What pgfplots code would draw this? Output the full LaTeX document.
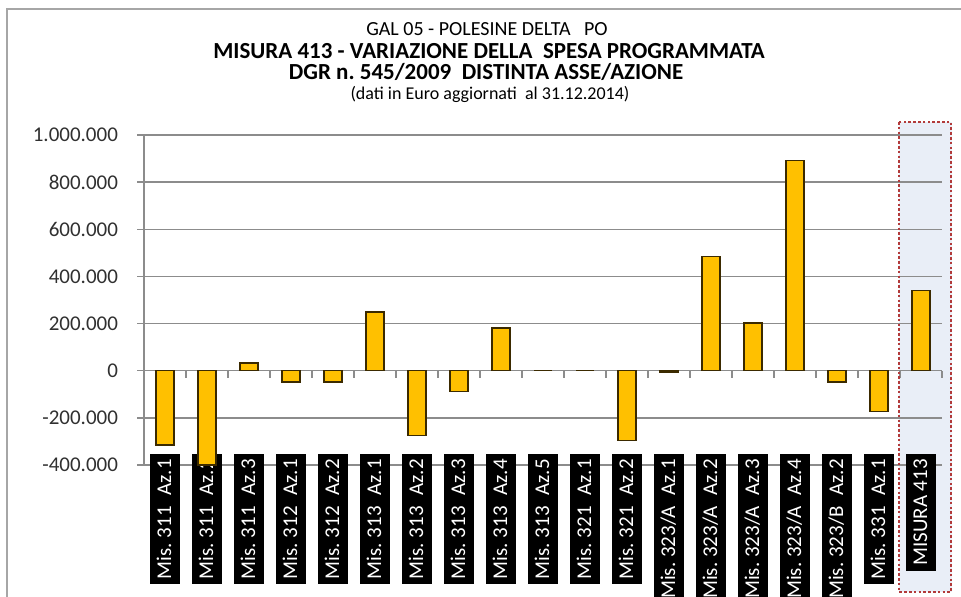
\documentclass[border=0pt]{standalone}
\usepackage{pgfplots}
\pgfplotsset{compat=1.18}
\usepackage{fontspec}
\setmainfont{Carlito}
\frenchspacing

\definecolor{barfill}{HTML}{FFC000}
\definecolor{baredge}{HTML}{3B2A00}
\definecolor{gridc}{HTML}{8C8C8C}
\definecolor{framec}{HTML}{A6A6A6}
\definecolor{boxblue}{HTML}{E9EEF7}
\definecolor{dotred}{HTML}{B23A3A}
\definecolor{ticktext}{HTML}{303030}

\begin{document}
\begin{tikzpicture}
% page: 961 x 596 px, 1 px = 0.5pt
\clip (0,0) rectangle (480.5pt,298pt);
\draw[framec, line width=0.7pt] (3.5pt,293.4pt) rectangle (500pt,-10pt);
\fill[boxblue] (449.5pt,237pt) rectangle (476pt,2pt);

\node[font=\fontsize{10}{12}\selectfont] at (243.5pt,283.5pt) {GAL 05 - POLESINE DELTA\ \ \ PO};
\node[font=\fontsize{11.5}{13}\selectfont\bfseries] at (244.5pt,272.5pt) {MISURA 413 - VARIAZIONE DELLA\ \ SPESA PROGRAMMATA};
\node[font=\fontsize{11.5}{13}\selectfont\bfseries] at (243pt,262pt) {DGR n. 545/2009\ \ DISTINTA ASSE/AZIONE};
\node[font=\fontsize{9}{11}\selectfont] at (245pt,251pt) {(dati in Euro aggiornati\ \ al 31.12.2014)};

\begin{axis}[
  at={(72pt,65.5pt)}, anchor=south west,
  width=399pt, height=165pt, scale only axis,
  xmin=-0.5, xmax=18.5,
  ymin=-400000, ymax=1000000,
  axis y line*=left,
  axis x line*=middle,
  axis line style={gridc, line width=0.7pt},
  ytick={-400000,-200000,...,1000000},
  scaled y ticks=false,
  ymajorgrids,
  grid style={gridc, line width=0.7pt},
  tick align=outside,
  major tick length=3.5pt,
  minor tick length=3.5pt,
  tick style={gridc, line width=0.7pt},
  major x tick style={draw=none},
  xtick={0,...,18},
  minor xtick={-0.5,0.5,...,18.5},
  xticklabels={Mis. 311\hspace{3pt} Az.1, Mis. 311\hspace{3pt} Az.2, Mis. 311\hspace{3pt} Az.3,
    Mis. 312\hspace{3pt} Az.1, Mis. 312\hspace{3pt} Az.2, Mis. 313\hspace{3pt} Az.1, Mis. 313\hspace{3pt} Az.2,
    Mis. 313\hspace{3pt} Az.3, Mis. 313\hspace{3pt} Az.4, Mis. 313\hspace{3pt} Az.5, Mis. 321\hspace{3pt} Az.1,
    Mis. 321\hspace{3pt} Az.2, Mis. 323/A\hspace{3pt} Az.1, Mis. 323/A\hspace{3pt} Az.2, Mis. 323/A\hspace{3pt} Az.3,
    Mis. 323/A\hspace{3pt} Az.4, Mis. 323/B\hspace{3pt} Az.2, Mis. 331\hspace{3pt} Az.1, MISURA 413},
  xticklabel style={yshift=-38pt, rotate=90, anchor=east,
    fill=black, text=white, font=\fontsize{10.5}{12}\selectfont,
    text height=8.7pt, text depth=2.7pt, inner ysep=1.8pt, inner xsep=2.5pt},
  yticklabel style={font=\fontsize{10.5}{12}\selectfont, text=ticktext, xshift=-6pt},
  /pgf/number format/.cd, fixed, 1000 sep={.}, assume math mode=true,
]
\addplot[ybar, bar width=0.42, fill=barfill, draw=baredge, line width=0.7pt]
  coordinates {
    (0,-315000) (1,-400000) (2,33000) (3,-48000) (4,-48000)
    (5,249000) (6,-276000) (7,-88000) (8,181000) (9,0)
    (10,0) (11,-296000) (12,-5000) (13,485000) (14,202000)
    (15,891000) (16,-48000) (17,-173000) (18,341000)
  };
\end{axis}

\draw[dotred, line width=1.3pt, dash pattern=on 1.3pt off 1.1pt] (449.5pt,237pt) rectangle (475.5pt,2pt);
\end{tikzpicture}
\end{document}
